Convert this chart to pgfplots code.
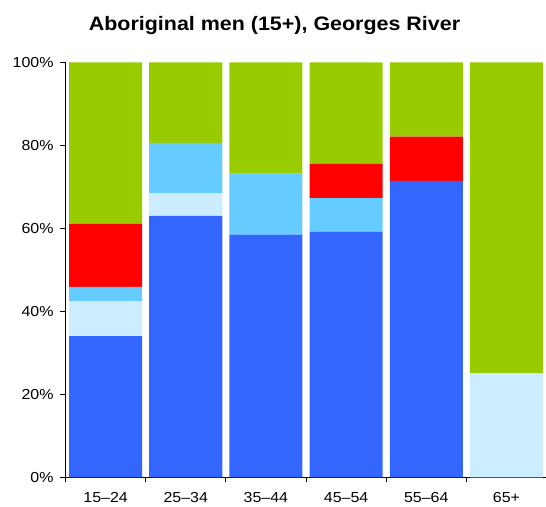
\documentclass[border=0pt]{standalone}
\usepackage{pgfplots}
\pgfplotsset{compat=1.18}
\usepackage{fontspec}
\setmainfont[FakeStretch=1.1]{Liberation Sans}
\definecolor{darkblue}{HTML}{3366FF}
\definecolor{paleblue}{HTML}{CCECFF}
\definecolor{midblue}{HTML}{66CCFF}
\definecolor{redseg}{HTML}{FF0000}
\definecolor{greenseg}{HTML}{99CC00}
\begin{document}
\begin{tikzpicture}
% 1pt here = 1px of the reference
\path[use as bounding box] (-65.5pt,-28.7pt) rectangle (480.5pt,477.3pt);
\begin{axis}[
  at={(0,0)}, anchor=south west,
  scale only axis, width=481pt, height=415pt,
  ybar stacked, bar width=73pt,
  xmin=0.5, xmax=6.5, ymin=0, ymax=100,
  axis lines*=left,
  axis line style={line width=0.8pt},
  xtick={1,2,3,4,5,6},
  xticklabels={15--24,25--34,35--44,45--54,55--64,65+},
  minor xtick={0.5,1.5,2.5,3.5,4.5,5.5,6.5},
  major x tick style={draw=none},
  minor tick length=5pt,
  ytick={0,20,40,60,80,100},
  yticklabels={0\%,20\%,40\%,60\%,80\%,100\%},
  major tick length=5pt,
  tick align=outside,
  tick style={black, line width=0.8pt},
  tick label style={font=\fontsize{14.5}{16}\selectfont},
  every tick label/.append style={text=black},
  xticklabel style={yshift=-7pt},
  yticklabel style={xshift=-3.5pt},
  clip=false,
]
\addplot[fill=darkblue, draw=none] coordinates {(1,34.0) (2,63.0) (3,58.5) (4,59.2) (5,71.4) (6,0)};
\addplot[fill=paleblue, draw=none] coordinates {(1,8.4) (2,5.4) (3,0) (4,0) (5,0) (6,25.1)};
\addplot[fill=midblue, draw=none] coordinates {(1,3.5) (2,12.2) (3,14.7) (4,8.1) (5,0) (6,0)};
\addplot[fill=redseg, draw=none] coordinates {(1,15.2) (2,0) (3,0) (4,8.2) (5,10.7) (6,0)};
\addplot[fill=greenseg, draw=none] coordinates {(1,38.9) (2,19.4) (3,26.8) (4,24.5) (5,17.9) (6,74.9)};
\end{axis}
\node[anchor=base, font=\fontsize{19.5}{22}\selectfont\bfseries] at (209pt,446.3pt) {Aboriginal men (15+), Georges River};
\end{tikzpicture}
\end{document}
